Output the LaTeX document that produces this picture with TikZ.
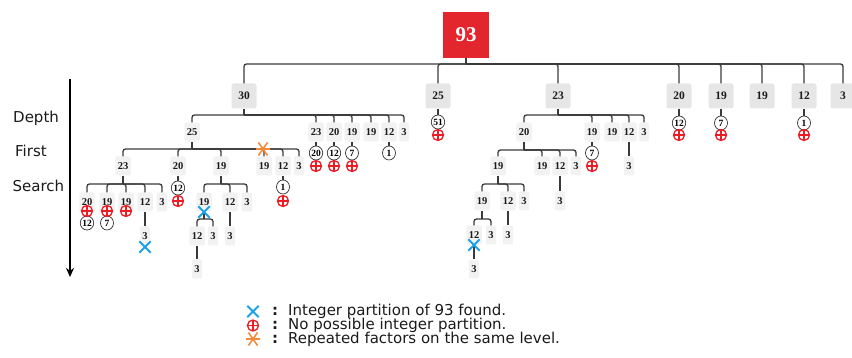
\documentclass[tikz,border=0pt]{standalone}
\usepackage{fontspec}
\setmainfont{Liberation Serif}
\newfontfamily\labfont{DejaVu Sans}
\usetikzlibrary{shapes.geometric,shapes.misc,arrows.meta}
\definecolor{lnc}{HTML}{3A3A3A}
\definecolor{bigfill}{HTML}{E6E6E6}
\definecolor{smfill}{HTML}{F2F2F2}
\definecolor{rootred}{HTML}{E3262D}
\definecolor{failred}{HTML}{EB1C24}
\definecolor{foundblue}{HTML}{1DA1E6}
\definecolor{reporange}{HTML}{F08A3C}
\definecolor{txt}{HTML}{1A1A1A}
\newcommand\mkfork[3]{%
  \draw[conn] (#1.south) -- (#1.south |- 0,#2);
  \foreach \kid in {#3}{\draw[conn] (#1.south |- 0,#2) -| (\kid.north);}
}
\tikzset{
 conn/.style={draw=lnc,line width=1.3pt,rounded corners=2.5pt},
 rootbox/.style={rectangle,fill=rootred,minimum size=46pt,inner sep=0pt,text=white,font=\fontsize{21}{22}\selectfont\bfseries},
 bigbox/.style={rectangle,rounded corners=2.5pt,fill=bigfill,minimum width=25pt,minimum height=25pt,inner sep=0pt,font=\fontsize{11.5}{12}\selectfont\bfseries,text=txt},
 smbox/.style={rectangle,rounded corners=2pt,fill=smfill,minimum height=19pt,inner xsep=2.5pt,inner ysep=0pt,font=\fontsize{10.5}{11}\selectfont\bfseries,text=txt},
 circ/.style={ellipse,draw=black!80,line width=0.7pt,fill=white,minimum width=13pt,minimum height=14pt,inner sep=0pt,font=\fontsize{9.5}{10}\selectfont\bfseries},
 fail/.style={circle,draw=failred,line width=1.3pt,minimum size=11pt,inner sep=0pt,
   path picture={\draw[failred,line width=1.3pt] (path picture bounding box.north)--(path picture bounding box.south) (path picture bounding box.west)--(path picture bounding box.east);}},
 found/.style={cross out,draw=foundblue,line width=1.8pt,minimum size=9.5pt,inner sep=0pt},
 repeated/.style={rectangle,minimum size=15pt,inner sep=0pt,
   path picture={\draw[reporange,line width=1.6pt]
     ([xshift=-7pt]path picture bounding box.center)--([xshift=7pt]path picture bounding box.center)
     ([shift={(-4.5pt,-6.5pt)}]path picture bounding box.center)--([shift={(4.5pt,6.5pt)}]path picture bounding box.center)
     ([shift={(-4.5pt,6.5pt)}]path picture bounding box.center)--([shift={(4.5pt,-6.5pt)}]path picture bounding box.center);}},
 sidelab/.style={font=\labfont\fontsize{15}{17}\selectfont,inner sep=0pt,anchor=base west,text=txt},
 legtext/.style={font=\labfont\fontsize{15}{17}\selectfont,inner sep=0pt,anchor=base west,text=txt},
}
\begin{document}
\begin{tikzpicture}[x=1pt,y=-1pt]
\useasboundingbox (0,0) rectangle (852,358);
% ---------- side ----------
\coordinate (atop) at (70,79);
\coordinate (abot) at (70,277);
\draw[line width=2.3pt,-{Stealth[length=9pt,width=8pt]}] (atop) -- (abot);
\node[sidelab] (lDepth) at (13,122.5) {Depth};
\node[sidelab] (lFirst) at (15,157) {First};
\node[sidelab] (lSearch) at (12.5,191.5) {Search};
% ---------- nodes ----------
\node[rootbox] (r) at (466,35) {93};
\foreach \nm/\x/\t in {a30/244/30,a25/438/25,a23/558/23,a20/679/20,a19/721/19,a19b/762/19,a12/804/12,a3/843/3}
  {\node[bigbox] (\nm) at (\x,96) {\t};}
% under 30
\foreach \nm/\x/\t in {b25/192/25,b23/316/23,b20/334/20,b19/352/19,b19b/371/19,b12/389/12,b3/404/3}
  {\node[smbox] (\nm) at (\x,132) {\t};}
% under 25 (of 30)
\foreach \nm/\x/\t in {c23/123/23,c20/178/20,c19/221/19,c19b/264/19,c12/283/12,c3/299/3}
  {\node[smbox] (\nm) at (\x,166) {\t};}
\foreach \nm/\x/\t in {d20/87/20,d19/107/19,d19b/126/19,d12/145/12,d3/162/3,d19c/204/19,d12b/230/12,d3b/247/3}
  {\node[smbox] (\nm) at (\x,202) {\t};}
\foreach \nm/\x/\t in {e3/145/3,e12/197/12,e3b/213/3,e3c/230/3}
  {\node[smbox] (\nm) at (\x,236) {\t};}
\node[smbox] (f3) at (197,269) {3};
% under 23 (level 1)
\foreach \nm/\x/\t in {g20/524/20,g19/592/19,g19b/612/19,g12/629/12,g3/644/3}
  {\node[smbox] (\nm) at (\x,132) {\t};}
\foreach \nm/\x/\t in {h19/498/19,h19b/542/19,h12/560/12,h3b/576/3,h3/629/3}
  {\node[smbox] (\nm) at (\x,166) {\t};}
\foreach \nm/\x/\t in {i19/482/19,i12/508/12,i3b/524/3,i3/560/3}
  {\node[smbox] (\nm) at (\x,201) {\t};}
\foreach \nm/\x/\t in {j12/474/12,j3b/491/3,j3/508/3}
  {\node[smbox] (\nm) at (\x,235) {\t};}
\node[smbox] (k3) at (474,269) {3};
% circles
\node[circ] (o51) at (438,122) {51};
\node[circ] (oa20) at (679,123) {12};
\node[circ] (oa19) at (721,123) {7};
\node[circ] (oa12) at (804,123) {1};
\node[circ] (ob23) at (316,153) {20};
\node[circ] (ob20) at (334,153) {12};
\node[circ] (ob19) at (352,153) {7};
\node[circ] (ob12) at (389,153) {1};
\node[circ] (oc20) at (178,188) {12};
\node[circ] (oc12) at (283,187) {1};
\node[circ] (od20) at (87,223) {12};
\node[circ] (od19) at (107,223) {7};
\node[circ] (og19) at (592,153) {7};
% ---------- connectors ----------
\mkfork{r}{64}{a30,a25,a23,a20,a19,a19b,a12,a3}
\mkfork{a30}{115}{b25,b23,b20,b19,b19b,b12,b3}
\mkfork{b25}{149}{c23,c20,c19,c19b,c12,c3}
\mkfork{c23}{184}{d20,d19,d19b,d12,d3}
\mkfork{c19}{184}{d19c,d12b,d3b}
\mkfork{d19c}{219}{e12,e3b}
\mkfork{a23}{115}{g20,g19,g19b,g12,g3}
\mkfork{g20}{150}{h19,h19b,h12,h3b}
\mkfork{h19}{184}{i19,i12,i3b}
\mkfork{i19}{219}{j12,j3b}
\foreach \p/\c in {d12/e3,e12/f3,d12b/e3c,g12/h3,h12/i3,i12/j3,j12/k3,
  a25/o51,a20/oa20,a19/oa19,a12/oa12,b23/ob23,b20/ob20,b19/ob19,b12/ob12,c20/oc20,c12/oc12,d20/od20,d19/od19,g19/og19}
  {\draw[conn] (\p.south) -- (\p.south |- \c.north);}
% ---------- markers ----------
\foreach \nm/\x/\y in {fa25/438/135,fa20/679/135,fa19/721/135,fa12/804/135,fb23/316/166,fb20/334/166,fb19/352/166,
  fc20/178/201,fc12/283/201,fd20/87/211,fd19/107/211,fd19b/126/211,fg19/592/166}
  {\node[fail] (\nm) at (\x,\y) {};}
\node[found] (xd12) at (145,247) {};
\node[found] (xd19c) at (204,212) {};
\node[found] (xj12) at (474,245) {};
\node[repeated] (rc19b) at (263,149) {};
% ---------- legend ----------
\node[found] (lgx) at (253,311.5) {};
\node[fail] (lgf) at (253,325.5) {};
\node[repeated] (lgr) at (253,339) {};
\node[legtext,anchor=base] (lgc1) at (275,315.5) {\bfseries :};
\node[legtext,anchor=base] (lgc2) at (275,330) {\bfseries :};
\node[legtext,anchor=base] (lgc3) at (275,344) {\bfseries :};
\node[legtext] (lgt1) at (288,315.5) {Integer partition of 93 found.};
\node[legtext] (lgt2) at (288,330) {No possible integer partition.};
\node[legtext] (lgt3) at (288,344) {Repeated factors on the same level.};
\end{tikzpicture}
\end{document}
